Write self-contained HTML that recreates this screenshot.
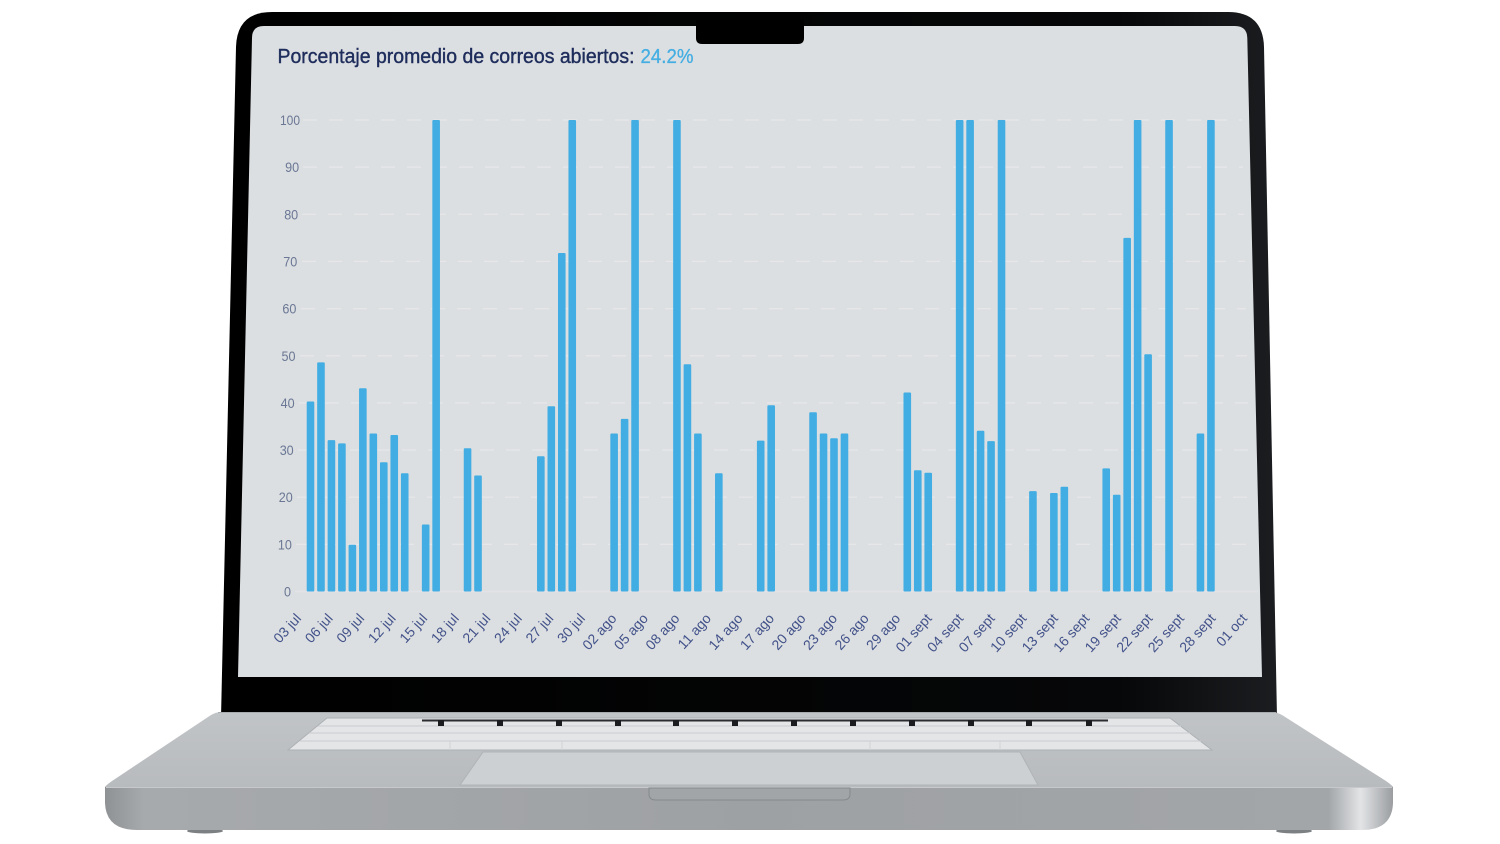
<!DOCTYPE html>
<html>
<head>
<meta charset="utf-8">
<style>
  html,body{margin:0;padding:0;background:#ffffff;}
  svg{display:block;}
  .yl{font-family:"Liberation Sans",sans-serif;font-size:14px;fill:#6a7795;text-anchor:end;}
  .xl{font-family:"Liberation Sans",sans-serif;font-size:14px;fill:#42528a;text-anchor:end;}
</style>
</head>
<body>
<svg width="1500" height="844" viewBox="0 0 1500 844" xmlns="http://www.w3.org/2000/svg">
  <defs>
    <linearGradient id="bez" x1="0" x2="1" y1="0" y2="0">
      <stop offset="0" stop-color="#000000"/>
      <stop offset="0.85" stop-color="#060708"/>
      <stop offset="1" stop-color="#1b1d20"/>
    </linearGradient>
    <linearGradient id="front" x1="0" x2="1" y1="0" y2="0">
      <stop offset="0" stop-color="#8f9295"/>
      <stop offset="0.03" stop-color="#a7aaad"/>
      <stop offset="0.5" stop-color="#9ea1a4"/>
      <stop offset="0.95" stop-color="#a3a6a9"/>
      <stop offset="0.975" stop-color="#e2e4e6"/>
      <stop offset="1" stop-color="#9a9da0"/>
    </linearGradient>
    <linearGradient id="deck" x1="0" x2="0" y1="0" y2="1">
      <stop offset="0" stop-color="#c1c4c7"/>
      <stop offset="1" stop-color="#b8bbbe"/>
    </linearGradient>
  </defs>

  <rect width="1500" height="844" fill="#ffffff"/>

  <!-- feet / shadow -->
  <ellipse cx="205" cy="831" rx="18" ry="2.5" fill="#7d8083"/>
  <ellipse cx="1294" cy="831" rx="18" ry="2.5" fill="#7d8083"/>

  <!-- bezel -->
  <path d="M272 12 H1228 Q1263 12 1264 47 L1277 718 H221 L236 47 Q237 12 272 12 Z" fill="url(#bez)"/>

  <!-- screen -->
  <path d="M264 26 H1235 Q1247 26 1247.3 38 L1262 677 H238 L252 38 Q252 26 264 26 Z" fill="#dcdfe1"/>

  <!-- notch -->
  <path d="M696 20 H804 V38 Q804 44 798 44 H702 Q696 44 696 38 Z" fill="#000000"/>

  <!-- title -->
  <text x="277.5" y="63" font-family="'Liberation Sans',sans-serif" font-size="20.5" fill="#1e2d5c" stroke="#1e2d5c" stroke-width="0.4" textLength="357" lengthAdjust="spacingAndGlyphs">Porcentaje promedio de correos abiertos:</text>
  <text x="640.5" y="63" font-family="'Liberation Sans',sans-serif" font-size="20.5" fill="#45aee3" stroke="#45aee3" stroke-width="0.3" textLength="53" lengthAdjust="spacingAndGlyphs">24.2%</text>

  <!-- gridlines -->
  <g stroke="#e7e7ea" stroke-width="1.2" stroke-dasharray="14 12" fill="none">
    <line x1="303" y1="120" x2="1242" y2="120"/>
    <line x1="303" y1="167.15" x2="1243" y2="167.15"/>
    <line x1="302" y1="214.3" x2="1244" y2="214.3"/>
    <line x1="302" y1="261.45" x2="1245" y2="261.45"/>
    <line x1="301" y1="308.6" x2="1246" y2="308.6"/>
    <line x1="300" y1="355.75" x2="1247" y2="355.75"/>
    <line x1="299" y1="402.9" x2="1248" y2="402.9"/>
    <line x1="298" y1="450.05" x2="1250" y2="450.05"/>
    <line x1="297" y1="497.2" x2="1251" y2="497.2"/>
    <line x1="296" y1="544.35" x2="1253" y2="544.35"/>
  </g>
  <line x1="295" y1="591.5" x2="1258" y2="591.5" stroke="#e2e3e8" stroke-width="1.4"/>

  <!-- y labels -->
  <g class="yl">
    <text x="300" y="125" textLength="20" lengthAdjust="spacingAndGlyphs">100</text>
    <text x="299.1" y="172.2" textLength="14" lengthAdjust="spacingAndGlyphs">90</text>
    <text x="298.2" y="219.3" textLength="14" lengthAdjust="spacingAndGlyphs">80</text>
    <text x="297.3" y="266.5" textLength="14" lengthAdjust="spacingAndGlyphs">70</text>
    <text x="296.4" y="313.6" textLength="14" lengthAdjust="spacingAndGlyphs">60</text>
    <text x="295.5" y="360.8" textLength="14" lengthAdjust="spacingAndGlyphs">50</text>
    <text x="294.6" y="407.9" textLength="14" lengthAdjust="spacingAndGlyphs">40</text>
    <text x="293.7" y="455.1" textLength="14" lengthAdjust="spacingAndGlyphs">30</text>
    <text x="292.8" y="502.2" textLength="14" lengthAdjust="spacingAndGlyphs">20</text>
    <text x="291.9" y="549.4" textLength="14" lengthAdjust="spacingAndGlyphs">10</text>
    <text x="291" y="596.5" textLength="7" lengthAdjust="spacingAndGlyphs">0</text>
  </g>

  <!-- bars -->
  <g fill="#41ade2">
    <rect x="306.7" y="401.5" width="7.6" height="190" rx="1"/>
    <rect x="317.17" y="362.4" width="7.6" height="229.1" rx="1"/>
    <rect x="327.64" y="440.1" width="7.6" height="151.4" rx="1"/>
    <rect x="338.11" y="443.4" width="7.6" height="148.1" rx="1"/>
    <rect x="348.58" y="544.8" width="7.6" height="46.7" rx="1"/>
    <rect x="359.05" y="388.3" width="7.6" height="203.2" rx="1"/>
    <rect x="369.52" y="433.5" width="7.6" height="158" rx="1"/>
    <rect x="379.99" y="462.3" width="7.6" height="129.2" rx="1"/>
    <rect x="390.46" y="435" width="7.6" height="156.5" rx="1"/>
    <rect x="400.93" y="473.2" width="7.6" height="118.3" rx="1"/>
    <rect x="421.87" y="524.5" width="7.6" height="67" rx="1"/>
    <rect x="432.34" y="120" width="7.6" height="471.5" rx="1"/>
    <rect x="463.75" y="448.2" width="7.6" height="143.3" rx="1"/>
    <rect x="474.22" y="475.5" width="7.6" height="116" rx="1"/>
    <rect x="537.04" y="456.2" width="7.6" height="135.3" rx="1"/>
    <rect x="547.51" y="406.2" width="7.6" height="185.3" rx="1"/>
    <rect x="557.98" y="253" width="7.6" height="338.5" rx="1"/>
    <rect x="568.45" y="120" width="7.6" height="471.5" rx="1"/>
    <rect x="610.33" y="433.5" width="7.6" height="158" rx="1"/>
    <rect x="620.8" y="418.9" width="7.6" height="172.6" rx="1"/>
    <rect x="631.27" y="120" width="7.6" height="471.5" rx="1"/>
    <rect x="673.15" y="120" width="7.6" height="471.5" rx="1"/>
    <rect x="683.62" y="364.2" width="7.6" height="227.3" rx="1"/>
    <rect x="694.09" y="433.5" width="7.6" height="158" rx="1"/>
    <rect x="715.03" y="473.2" width="7.6" height="118.3" rx="1"/>
    <rect x="756.91" y="440.6" width="7.6" height="150.9" rx="1"/>
    <rect x="767.38" y="405.3" width="7.6" height="186.2" rx="1"/>
    <rect x="809.26" y="412.3" width="7.6" height="179.2" rx="1"/>
    <rect x="819.73" y="433.5" width="7.6" height="158" rx="1"/>
    <rect x="830.2" y="438.3" width="7.6" height="153.2" rx="1"/>
    <rect x="840.67" y="433.5" width="7.6" height="158" rx="1"/>
    <rect x="903.49" y="392.5" width="7.6" height="199" rx="1"/>
    <rect x="913.96" y="470.3" width="7.6" height="121.2" rx="1"/>
    <rect x="924.43" y="472.7" width="7.6" height="118.8" rx="1"/>
    <rect x="955.84" y="120" width="7.6" height="471.5" rx="1"/>
    <rect x="966.31" y="120" width="7.6" height="471.5" rx="1"/>
    <rect x="976.78" y="430.7" width="7.6" height="160.8" rx="1"/>
    <rect x="987.25" y="441.1" width="7.6" height="150.4" rx="1"/>
    <rect x="997.72" y="120" width="7.6" height="471.5" rx="1"/>
    <rect x="1029.13" y="491.1" width="7.6" height="100.4" rx="1"/>
    <rect x="1050.07" y="493" width="7.6" height="98.5" rx="1"/>
    <rect x="1060.54" y="486.8" width="7.6" height="104.7" rx="1"/>
    <rect x="1102.42" y="468.4" width="7.6" height="123.1" rx="1"/>
    <rect x="1112.89" y="494.8" width="7.6" height="96.7" rx="1"/>
    <rect x="1123.36" y="237.9" width="7.6" height="353.6" rx="1"/>
    <rect x="1133.83" y="120" width="7.6" height="471.5" rx="1"/>
    <rect x="1144.3" y="354.3" width="7.6" height="237.2" rx="1"/>
    <rect x="1165.24" y="120" width="7.6" height="471.5" rx="1"/>
    <rect x="1196.65" y="433.5" width="7.6" height="158" rx="1"/>
    <rect x="1207.12" y="120" width="7.6" height="471.5" rx="1"/>
  </g>

  <!-- x labels -->
  <g class="xl">
    <text transform="translate(302,619) rotate(-48)">03 jul</text>
    <text transform="translate(333.53,619) rotate(-48)">06 jul</text>
    <text transform="translate(365.06,619) rotate(-48)">09 jul</text>
    <text transform="translate(396.59,619) rotate(-48)">12 jul</text>
    <text transform="translate(428.12,619) rotate(-48)">15 jul</text>
    <text transform="translate(459.65,619) rotate(-48)">18 jul</text>
    <text transform="translate(491.18,619) rotate(-48)">21 jul</text>
    <text transform="translate(522.71,619) rotate(-48)">24 jul</text>
    <text transform="translate(554.24,619) rotate(-48)">27 jul</text>
    <text transform="translate(585.77,619) rotate(-48)">30 jul</text>
    <text transform="translate(617.3,619) rotate(-48)">02 ago</text>
    <text transform="translate(648.83,619) rotate(-48)">05 ago</text>
    <text transform="translate(680.36,619) rotate(-48)">08 ago</text>
    <text transform="translate(711.89,619) rotate(-48)">11 ago</text>
    <text transform="translate(743.42,619) rotate(-48)">14 ago</text>
    <text transform="translate(774.95,619) rotate(-48)">17 ago</text>
    <text transform="translate(806.48,619) rotate(-48)">20 ago</text>
    <text transform="translate(838.01,619) rotate(-48)">23 ago</text>
    <text transform="translate(869.54,619) rotate(-48)">26 ago</text>
    <text transform="translate(901.07,619) rotate(-48)">29 ago</text>
    <text transform="translate(932.6,619) rotate(-48)">01 sept</text>
    <text transform="translate(964.13,619) rotate(-48)">04 sept</text>
    <text transform="translate(995.66,619) rotate(-48)">07 sept</text>
    <text transform="translate(1027.19,619) rotate(-48)">10 sept</text>
    <text transform="translate(1058.72,619) rotate(-48)">13 sept</text>
    <text transform="translate(1090.25,619) rotate(-48)">16 sept</text>
    <text transform="translate(1121.78,619) rotate(-48)">19 sept</text>
    <text transform="translate(1153.31,619) rotate(-48)">22 sept</text>
    <text transform="translate(1184.84,619) rotate(-48)">25 sept</text>
    <text transform="translate(1216.37,619) rotate(-48)">28 sept</text>
    <text transform="translate(1247.9,619) rotate(-48)">01 oct</text>
  </g>

  <!-- base deck -->
  <path d="M222 712 H1271 Q1277 712 1282 715 L1386 781 Q1393 786 1393 787 H105 Q105 786 112 781 L211 715 Q216 712 222 712 Z" fill="url(#deck)"/>
  <line x1="218" y1="712.5" x2="1276" y2="712.5" stroke="#a9acaf" stroke-width="1"/>

  <!-- keyboard well -->
  <path d="M327 718 H1170 L1212 750 H288 Z" fill="#e3e5e7" stroke="#aeb1b4" stroke-width="1"/>
  <g stroke="#c9ccd0" stroke-width="1">
    <line x1="318" y1="726" x2="1181" y2="726"/>
    <line x1="309" y1="733" x2="1190" y2="733"/>
    <line x1="300" y1="741" x2="1201" y2="741"/>
  </g>
  <g stroke="#d0d3d6" stroke-width="1">
    <line x1="562" y1="741" x2="562" y2="750"/>
    <line x1="870" y1="741" x2="870" y2="750"/>
    <line x1="450" y1="741" x2="450" y2="750"/>
    <line x1="1000" y1="741" x2="1000" y2="750"/>
  </g>
  <rect x="422" y="719.5" width="686" height="2" fill="#2a2c2f"/>
  <g fill="#1a1c1f">
    <rect x="438" y="720" width="6" height="6"/>
    <rect x="497" y="720" width="6" height="6"/>
    <rect x="556" y="720" width="6" height="6"/>
    <rect x="615" y="720" width="6" height="6"/>
    <rect x="673" y="720" width="6" height="6"/>
    <rect x="732" y="720" width="6" height="6"/>
    <rect x="791" y="720" width="6" height="6"/>
    <rect x="850" y="720" width="6" height="6"/>
    <rect x="909" y="720" width="6" height="6"/>
    <rect x="968" y="720" width="6" height="6"/>
    <rect x="1026" y="720" width="6" height="6"/>
    <rect x="1086" y="720" width="6" height="6"/>
  </g>

  <!-- trackpad -->
  <path d="M483 752 H1020 L1038 785 H460 Z" fill="#cdd0d3" stroke="#b0b3b6" stroke-width="1"/>

  <!-- front face -->
  <path d="M105 787 H1393 V803 Q1392 830 1362 830 H137 Q106 830 105 803 Z" fill="url(#front)"/>
  <line x1="106" y1="787.5" x2="1392" y2="787.5" stroke="#c6c8cb" stroke-width="1"/>

  <!-- front notch -->
  <path d="M649 788 H850 V794 Q850 800 843 800 H656 Q649 800 649 794 Z" fill="#a2a5a8" stroke="#86898c" stroke-width="1"/>
</svg>
</body>
</html>
